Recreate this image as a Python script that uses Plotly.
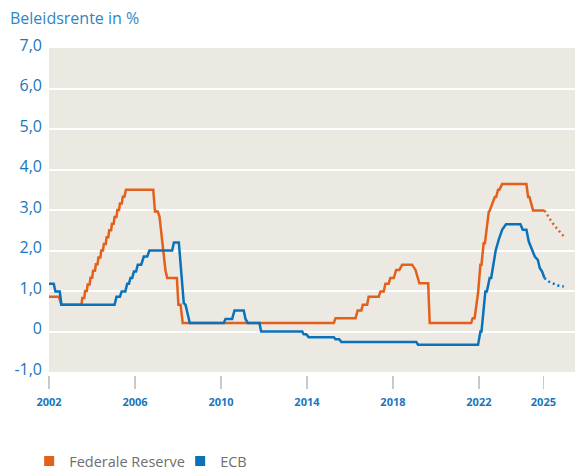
import plotly.graph_objects as go

# ---------------- data ----------------
fed_years = [
    2002.00, 2002.46, 2002.57, 2003.51,
    2003.55, 2003.64, 2003.68, 2003.76, 2003.80, 2003.89, 2003.93, 2004.01,
    2004.05, 2004.14, 2004.18, 2004.26, 2004.30, 2004.39, 2004.43, 2004.51,
    2004.55, 2004.64, 2004.68, 2004.76, 2004.80, 2004.89, 2004.93, 2005.01,
    2005.05, 2005.14, 2005.18, 2005.26, 2005.30, 2005.39, 2005.43, 2005.51,
    2005.58, 2006.85, 2006.93, 2007.06, 2007.14, 2007.42, 2007.50, 2007.95,
    2008.02, 2008.12, 2008.22, 2015.25, 2015.33, 2016.26, 2016.36, 2016.53,
    2016.60, 2016.80, 2016.87, 2017.34, 2017.42, 2017.57, 2017.65, 2017.80,
    2017.88, 2018.04, 2018.15, 2018.30, 2018.43, 2018.89, 2019.05, 2019.23,
    2019.64, 2019.71, 2021.64, 2021.71, 2021.80, 2021.96, 2022.07, 2022.12,
    2022.22, 2022.28, 2022.46, 2022.50, 2022.66, 2022.74, 2022.80, 2022.89,
    2022.95, 2023.08, 2024.21, 2024.29, 2024.35, 2024.52, 2025.05,
]
fed_values = [
    0.86, 0.86, 0.66, 0.66,
    0.83, 0.83, 1.00, 1.00, 1.16, 1.16, 1.33, 1.33,
    1.50, 1.50, 1.66, 1.66, 1.83, 1.83, 2.00, 2.00,
    2.16, 2.16, 2.33, 2.33, 2.50, 2.50, 2.66, 2.66,
    2.83, 2.83, 3.00, 3.00, 3.16, 3.16, 3.33, 3.33,
    3.50, 3.50, 2.96, 2.96, 2.84, 1.50, 1.32, 1.32,
    0.66, 0.66, 0.21, 0.21, 0.33, 0.33, 0.52, 0.52,
    0.66, 0.66, 0.86, 0.86, 0.99, 0.99, 1.18, 1.18,
    1.32, 1.32, 1.52, 1.52, 1.65, 1.65, 1.52, 1.19,
    1.19, 0.21, 0.21, 0.33, 0.33, 0.95, 1.65, 1.65,
    2.18, 2.18, 2.96, 2.98, 3.21, 3.32, 3.32, 3.50,
    3.50, 3.64, 3.64, 3.32, 3.32, 2.99, 2.99,
]
fed_forecast_years = [2025.05, 2025.42, 2025.68, 2025.95]
fed_forecast_values = [2.99, 2.68, 2.51, 2.35]

ecb_years = [
    2002.00, 2002.22, 2002.30, 2002.50, 2002.58, 2005.05, 2005.14, 2005.30,
    2005.38, 2005.55, 2005.64, 2005.72, 2005.79, 2005.87, 2005.95, 2006.05,
    2006.13, 2006.29, 2006.41, 2006.57, 2006.67, 2007.73, 2007.81, 2008.04,
    2008.27, 2008.35, 2008.55, 2010.13, 2010.21, 2010.52, 2010.63, 2011.06,
    2011.14, 2011.25, 2011.79, 2011.87, 2013.78, 2013.85, 2013.97, 2014.08,
    2015.25, 2015.33, 2015.50, 2015.60, 2019.09, 2019.17, 2021.96, 2022.07,
    2022.12, 2022.30, 2022.37, 2022.50, 2022.57, 2022.74, 2022.78, 2022.92,
    2023.08, 2023.26, 2023.93, 2024.04, 2024.21, 2024.32, 2024.47, 2024.60,
    2024.74, 2024.83, 2024.94, 2025.05,
]
ecb_values = [
    1.18, 1.18, 0.99, 0.99, 0.66, 0.66, 0.86, 0.86,
    0.99, 0.99, 1.18, 1.18, 1.32, 1.32, 1.48, 1.48,
    1.65, 1.65, 1.85, 1.85, 2.00, 2.00, 2.20, 2.20,
    0.70, 0.66, 0.21, 0.21, 0.31, 0.31, 0.52, 0.52,
    0.31, 0.21, 0.21, 0.00, 0.00, -0.07, -0.07, -0.14,
    -0.14, -0.19, -0.19, -0.26, -0.26, -0.33, -0.33, 0.00,
    0.00, 0.99, 0.99, 1.32, 1.32, 1.98, 2.00, 2.26,
    2.51, 2.65, 2.65, 2.51, 2.51, 2.22, 2.02, 1.85,
    1.77, 1.57, 1.48, 1.32,
]
ecb_forecast_years = [2025.05, 2025.17, 2025.33, 2025.51, 2025.71, 2025.95]
ecb_forecast_values = [1.32, 1.26, 1.21, 1.17, 1.13, 1.11]

x_tick_values = [2002, 2006, 2010, 2014, 2018, 2022, 2025]
x_tick_labels = ["2002", "2006", "2010", "2014", "2018", "2022", "2025"]
y_tick_values = [-1, 0, 1, 2, 3, 4, 5, 6, 7]
y_tick_labels = ["-1,0", "0", "1,0", "2,0", "3,0", "4,0", "5,0", "6,0", "7,0"]

series_names = ["Federale Reserve", "ECB"]

# ---------------- styling ----------------
ORANGE = "#E2601B"
BLUE = "#0A72BA"
TICK_BLUE = "#1A76BC"
TITLE_BLUE = "#2E86C6"
FONT = "Open Sans"

fig = go.Figure()

fig.add_trace(go.Scatter(x=fed_years, y=fed_values, mode="lines",
                         line=dict(color=ORANGE, width=2.5),
                         showlegend=False, hoverinfo="skip"))
fig.add_trace(go.Scatter(x=fed_forecast_years, y=fed_forecast_values, mode="lines",
                         line=dict(color=ORANGE, width=2.5, dash="2px,3px"),
                         showlegend=False, hoverinfo="skip"))
fig.add_trace(go.Scatter(x=ecb_years, y=ecb_values, mode="lines",
                         line=dict(color=BLUE, width=2.5),
                         showlegend=False, hoverinfo="skip"))
fig.add_trace(go.Scatter(x=ecb_forecast_years, y=ecb_forecast_values, mode="lines",
                         line=dict(color=BLUE, width=2.5, dash="2px,3px"),
                         showlegend=False, hoverinfo="skip"))

# legend entries (square swatches)
for name, col in zip(series_names, [ORANGE, BLUE]):
    fig.add_trace(go.Scatter(x=[None], y=[None], mode="markers", name=name,
                             marker=dict(symbol="square", size=10, color=col)))

fig.update_layout(
    width=576, height=470,
    margin=dict(l=49, r=1, t=48, b=95, autoexpand=False),
    paper_bgcolor="white",
    plot_bgcolor="#ECE9E3",
    font=dict(family=FONT),
    title=dict(text="Beleidsrente in %", x=10 / 576, xanchor="left",
               xref="container", y=1 - 18 / 470, yref="container", yanchor="middle",
               font=dict(family=FONT, size=16, color=TITLE_BLUE)),
    showlegend=True,
    legend=dict(orientation="h", x=-0.0377, xanchor="left", y=-0.263, yanchor="middle",
                font=dict(family=FONT, size=14.5, color="#6D6E71"),
                entrywidth=106, entrywidthmode="pixels",
                bgcolor="rgba(0,0,0,0)", traceorder="normal"),
    xaxis=dict(range=[2002, 2026.47], anchor="free", position=0, automargin=False,
               tickvals=x_tick_values, ticktext=x_tick_labels,
               ticks="outside", ticklen=13, tickwidth=1.5, tickcolor="#C9C9C9",
               showgrid=False, zeroline=False, showline=False,
               tickfont=dict(family=FONT, size=11, color=TICK_BLUE, weight="bold"),
               ticklabelstandoff=4),
    yaxis=dict(range=[-1, 7], domain=[3 / 327, 1], automargin=False,
               tickvals=y_tick_values, ticktext=y_tick_labels,
               showgrid=True, gridcolor="white", gridwidth=2,
               zeroline=False, showline=False, ticks="",
               ticklabelstandoff=6, ticklabelshift=-3,
               tickfont=dict(family=FONT, size=16, color=TICK_BLUE)),
)

fig.write_html("out.html",
               config={"displayModeBar": False, "staticPlot": True},
               post_script="document.body.style.margin='0px';"
                           "document.body.style.overflow='hidden';")
